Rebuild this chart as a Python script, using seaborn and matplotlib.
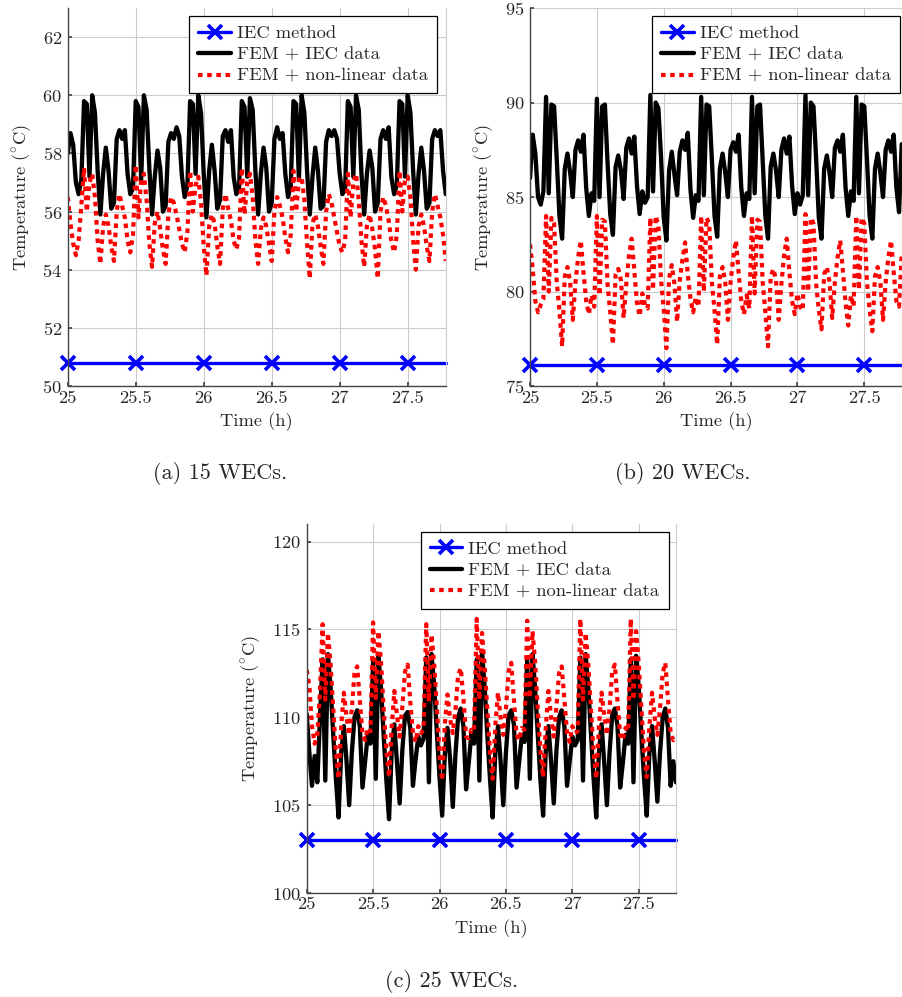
import numpy as np
import matplotlib
matplotlib.use("Agg")
import matplotlib.pyplot as plt
from matplotlib.ticker import FormatStrFormatter
import seaborn as sns

# ---------------- data ----------------
time_h = np.round(np.linspace(25.0, 27.78, 140), 2)
iec_time = [25.0, 25.5, 26.0, 26.5, 27.0, 27.5, 27.78]

# (a) 15 WECs
iec_15 = [50.8, 50.8, 50.8, 50.8, 50.8, 50.8, 50.8]
fem_iec_15 = [
    58.0, 58.7, 58.3, 57.0, 56.6, 57.1,
    59.8, 59.7, 57.2, 60.0, 59.4, 57.4, 55.9, 57.3, 58.2, 57.4, 56.1, 56.3, 58.5, 58.8, 58.5, 58.8, 57.3, 56.6, 56.8,
    59.8, 59.6, 57.1, 60.0, 59.5, 57.5, 55.9, 57.2, 58.1, 57.5, 56.0, 56.2, 58.4, 58.7, 58.5, 58.9, 58.6, 57.2, 56.5, 56.9,
    59.8, 59.7, 57.3, 60.0, 59.4, 57.3, 55.8, 57.4, 58.3, 57.4, 56.1, 56.4, 58.6, 58.8, 58.4, 58.8, 57.2, 56.6, 56.8,
    59.8, 59.6, 57.2, 59.9, 59.5, 57.4, 55.9, 57.3, 58.2, 57.5, 56.0, 56.3, 58.5, 58.9, 58.5, 58.7, 57.3, 56.5, 56.9,
    59.8, 59.7, 57.1, 60.0, 59.4, 57.4, 55.9, 57.2, 58.2, 57.4, 56.1, 56.2, 58.4, 58.8, 58.6, 58.8, 58.5, 57.3, 56.6, 56.8,
    59.8, 59.6, 57.2, 60.0, 59.5, 57.3, 55.9, 57.3, 58.1, 57.5, 56.0, 56.3, 58.5, 58.8, 58.5, 58.9, 57.2, 56.6, 56.9,
    59.8, 59.7, 57.2, 60.0, 59.4, 57.4, 55.9, 57.3, 58.2, 57.4, 56.1, 56.3, 58.5, 58.8, 58.6, 58.8, 57.4, 56.6]
fem_nl_15 = [
    56.5, 55.6, 54.9, 54.5, 55.0, 56.2,
    57.5, 56.0, 57.0, 57.3, 56.5, 55.0, 54.2, 55.5, 55.9, 55.5, 54.8, 54.3, 56.0, 56.6, 56.2, 55.8, 55.0, 54.6, 55.2,
    57.6, 55.8, 57.1, 57.3, 56.4, 54.9, 54.1, 55.6, 56.0, 55.4, 54.7, 54.2, 55.9, 56.5, 56.3, 55.9, 55.4, 54.9, 54.6, 55.3,
    57.4, 56.0, 56.9, 57.2, 56.3, 54.8, 53.8, 55.5, 55.9, 55.6, 54.8, 54.2, 56.1, 56.6, 56.1, 55.7, 55.0, 54.7, 55.1,
    57.5, 55.9, 57.0, 57.3, 56.5, 55.0, 54.2, 55.4, 55.8, 55.5, 54.9, 54.3, 56.0, 56.5, 56.2, 55.8, 55.1, 54.6, 55.2,
    57.4, 56.0, 57.1, 57.2, 56.4, 54.9, 53.7, 55.6, 55.9, 55.5, 54.8, 54.2, 56.0, 56.6, 56.3, 55.8, 55.3, 54.8, 54.6, 55.0,
    57.3, 55.8, 57.0, 57.3, 56.4, 55.0, 54.1, 55.5, 55.9, 55.4, 54.7, 53.7, 56.0, 56.5, 56.2, 55.7, 55.0, 54.6, 55.2,
    57.4, 56.0, 57.1, 57.2, 56.5, 55.0, 54.0, 55.5, 55.9, 55.5, 54.8, 54.3, 56.0, 56.6, 56.2, 55.8, 55.2, 54.3]

# (b) 20 WECs
iec_20 = [76.1, 76.1, 76.1, 76.1, 76.1, 76.1, 76.1]
fem_iec_20 = [
    86.0, 88.3, 87.3, 85.0, 84.6, 85.3,
    90.3, 85.2, 89.9, 89.8, 87.0, 84.0, 82.8, 86.5, 87.3, 86.3, 85.0, 87.5, 88.0, 87.4, 88.3, 85.5, 84.0, 85.2, 84.8,
    90.2, 85.0, 89.8, 89.9, 86.8, 84.1, 83.0, 86.6, 87.2, 86.4, 84.9, 87.6, 88.1, 87.3, 88.2, 85.6, 84.1, 85.3, 84.7, 85.0,
    90.4, 85.3, 90.0, 89.7, 87.1, 83.9, 82.7, 86.4, 87.4, 86.2, 85.1, 87.4, 88.0, 87.5, 88.4, 85.4, 83.9, 85.1, 84.8,
    90.3, 85.1, 89.9, 89.8, 87.0, 84.0, 82.9, 86.5, 87.3, 86.3, 85.0, 87.5, 87.9, 87.4, 88.3, 85.5, 84.0, 85.2, 84.9,
    90.3, 85.2, 89.8, 89.9, 86.9, 84.0, 82.8, 86.6, 87.3, 86.4, 85.0, 87.5, 88.1, 87.3, 88.2, 85.6, 84.1, 85.2, 84.6, 85.1,
    90.4, 85.1, 90.0, 89.8, 87.0, 83.9, 82.8, 86.5, 87.2, 86.3, 85.0, 87.6, 88.0, 87.4, 88.3, 85.5, 84.0, 85.3, 84.8,
    90.3, 85.2, 89.9, 89.8, 87.0, 84.0, 82.8, 86.5, 87.3, 86.3, 85.0, 87.5, 88.0, 87.4, 88.3, 85.5, 84.2, 87.8]
fem_nl_20 = [
    82.5, 81.2, 79.5, 78.9, 79.3, 79.6,
    84.0, 80.0, 83.9, 83.6, 80.5, 79.0, 77.1, 80.8, 81.3, 80.5, 78.5, 80.5, 81.8, 82.7, 81.0, 79.5, 78.8, 79.8, 79.2,
    84.0, 79.8, 83.8, 83.7, 80.4, 78.9, 77.2, 80.9, 81.2, 80.6, 78.6, 80.4, 81.9, 82.8, 81.1, 79.4, 78.7, 79.9, 79.3, 79.1,
    83.9, 80.1, 84.0, 83.5, 80.6, 79.1, 77.0, 80.7, 81.4, 80.4, 78.4, 80.6, 81.7, 82.6, 80.9, 79.6, 78.9, 79.7, 79.2,
    84.0, 80.0, 83.9, 83.6, 80.5, 79.0, 77.2, 80.8, 81.3, 80.5, 78.5, 80.5, 81.8, 82.7, 81.0, 79.5, 78.8, 79.8, 79.1,
    84.0, 79.9, 83.8, 83.7, 80.5, 78.9, 77.1, 80.8, 81.2, 80.6, 78.5, 80.4, 81.9, 82.8, 81.0, 79.5, 78.8, 79.9, 79.2, 79.0,
    84.1, 80.0, 83.9, 83.6, 80.4, 79.0, 78.0, 80.9, 81.3, 80.5, 78.6, 80.5, 81.8, 82.7, 81.1, 79.4, 78.2, 79.8, 79.2,
    84.0, 80.1, 83.9, 83.6, 80.5, 79.0, 77.9, 80.8, 81.3, 80.5, 78.5, 80.5, 81.8, 82.7, 81.0, 79.5, 79.2, 82.0]

# (c) 25 WECs
iec_25 = [103.0, 103.0, 103.0, 103.0, 103.0, 103.0, 103.0]
fem_iec_25 = [
    110.2, 108.0, 106.1, 107.8, 106.3, 110.0,
    113.3, 106.4, 113.6, 111.7, 109.0, 106.5, 104.3, 108.0, 109.5, 107.5, 105.0, 108.0, 110.0, 110.4, 109.5, 106.0, 107.5, 109.0, 108.5,
    113.2, 106.5, 113.5, 111.6, 108.9, 106.4, 104.2, 108.1, 109.6, 107.4, 105.1, 108.1, 110.1, 110.3, 109.4, 106.1, 107.6, 108.9, 108.4, 108.8,
    113.4, 106.3, 113.6, 111.8, 109.1, 106.6, 104.4, 107.9, 109.4, 107.6, 104.9, 107.9, 110.0, 110.5, 109.5, 105.9, 107.4, 109.1, 108.5,
    113.3, 106.4, 113.7, 111.7, 109.0, 106.5, 104.3, 108.0, 109.5, 107.5, 105.0, 108.0, 110.1, 110.4, 109.6, 106.0, 107.5, 109.0, 108.6,
    113.3, 106.5, 113.6, 111.6, 109.0, 106.4, 104.4, 108.1, 109.5, 107.5, 105.1, 108.1, 110.0, 110.4, 109.5, 106.1, 107.5, 108.9, 108.4, 108.7,
    113.4, 106.4, 113.6, 111.7, 109.1, 106.5, 104.3, 108.0, 109.6, 107.4, 105.0, 108.0, 110.1, 110.5, 109.5, 106.0, 107.4, 109.0, 108.5,
    113.3, 106.3, 113.5, 111.7, 109.0, 106.5, 104.4, 108.0, 109.5, 107.5, 105.2, 108.0, 110.0, 110.5, 109.4, 106.1, 107.5, 106.3]
fem_nl_25 = [
    112.7, 111.8, 109.5, 108.5, 109.0, 111.5,
    115.3, 111.0, 114.8, 113.0, 110.5, 108.0, 106.5, 109.5, 111.4, 110.0, 109.0, 110.5, 112.5, 112.9, 111.0, 109.0, 108.7, 109.4, 109.2,
    115.4, 111.1, 114.9, 113.1, 110.4, 108.1, 106.6, 109.4, 111.5, 110.1, 108.9, 110.6, 112.6, 113.0, 110.9, 109.1, 108.6, 109.5, 109.1, 109.3,
    115.3, 110.9, 114.7, 113.0, 110.6, 107.9, 106.4, 109.6, 111.3, 109.9, 109.1, 110.4, 112.4, 112.8, 111.1, 108.9, 108.8, 109.3, 109.2,
    115.6, 111.0, 114.8, 112.9, 110.5, 108.0, 106.5, 109.5, 111.4, 110.0, 109.0, 110.5, 112.6, 113.1, 111.0, 109.0, 108.7, 109.4, 109.3,
    115.5, 111.1, 114.9, 113.1, 110.4, 108.1, 106.6, 109.4, 111.5, 110.0, 108.9, 110.6, 112.5, 112.9, 111.0, 109.1, 108.6, 109.5, 109.1, 109.2,
    115.6, 111.0, 114.8, 113.0, 110.5, 108.0, 106.5, 109.5, 111.4, 110.1, 109.0, 110.5, 112.6, 113.0, 110.9, 109.0, 108.7, 109.4, 109.2,
    115.6, 111.0, 114.9, 113.0, 110.5, 108.0, 106.6, 109.5, 111.4, 110.0, 109.0, 110.5, 112.5, 113.1, 111.0, 109.1, 108.7, 108.9]

panels = [
    (iec_15, fem_iec_15, fem_nl_15, (50, 63), [50, 52, 54, 56, 58, 60, 62], '(a) 15 WECs.'),
    (iec_20, fem_iec_20, fem_nl_20, (75, 95), [75, 80, 85, 90, 95], '(b) 20 WECs.'),
    (iec_25, fem_iec_25, fem_nl_25, (100, 121), [100, 105, 110, 115, 120], '(c) 25 WECs.'),
]
xticks = [25, 25.5, 26, 26.5, 27, 27.5]

# ---------------- style ----------------
sns.set_theme(style="whitegrid")
plt.rcParams['font.family'] = ['cmr10', 'DejaVu Serif']
plt.rcParams['mathtext.fontset'] = 'cm'
plt.rcParams['axes.formatter.use_mathtext'] = True
plt.rcParams['axes.unicode_minus'] = False
FS = 13.3      # ticks, axis labels, legend
FS_CAP = 16    # sub-captions

fig = plt.figure(figsize=(9.02, 9.97), dpi=100)
# axes boxes in figure fraction [left, bottom, width, height]
boxes = [[0.0751, 0.6128, 0.4191, 0.3791],
         [0.5876, 0.6128, 0.4121, 0.3791],
         [0.3400, 0.1043, 0.4094, 0.3701]]
leg_anchor = [(0.977, 0.979), (0.995, 0.979), (0.980, 0.979)]
captions_xy = [(0.244, 0.525), (0.757, 0.525), (0.501, 0.016)]

for i, (iec, fem_iec, fem_nl, ylim, yticks, cap) in enumerate(panels):
    ax = fig.add_axes(boxes[i])
    sns.lineplot(x=iec_time, y=iec, ax=ax, color='blue', lw=2.4,
                 marker='x', markersize=9.5, markeredgewidth=2.6,
                 markeredgecolor='blue', markevery=[0, 1, 2, 3, 4, 5],
                 clip_on=False, label='IEC method')
    sns.lineplot(x=time_h, y=fem_iec, ax=ax, color='black', lw=3.1,
                 label='FEM + IEC data')
    sns.lineplot(x=time_h, y=fem_nl, ax=ax, color='red', lw=3.0,
                 linestyle=(0, (1.1, 1.1)), label='FEM + non-linear data')

    ax.set_xlim(25, 27.78)
    ax.set_ylim(*ylim)
    ax.set_xticks(xticks)
    ax.set_yticks(yticks)
    ax.xaxis.set_major_formatter(FormatStrFormatter('%g'))
    ax.tick_params(labelsize=FS, direction='in', length=3, color='#444444',
                   left=True, bottom=True)
    ax.tick_params(axis='y', pad=4)
    ax.tick_params(axis='x', pad=3)
    ax.grid(True, color='#cccccc', lw=0.8)
    ax.set_facecolor('white')
    for s in ['left', 'bottom']:
        ax.spines[s].set_color('#444444')
        ax.spines[s].set_linewidth(1.0)
    ax.spines['top'].set_visible(False)
    ax.spines['right'].set_color('#cccccc')
    ax.spines['right'].set_linewidth(0.8)

    ax.set_xlabel('Time (h)', fontsize=FS, labelpad=5)
    ax.set_ylabel(r'Temperature ($^{\circ}$C)', fontsize=FS, labelpad=7)

    leg = ax.legend(loc='upper right', bbox_to_anchor=leg_anchor[i],
                    borderaxespad=0, fontsize=FS, frameon=True,
                    fancybox=False, framealpha=1, edgecolor='black',
                    handlelength=1.75, handletextpad=0.33, labelspacing=0.3,
                    borderpad=0.5)
    leg.get_frame().set_linewidth(0.9)

    fig.text(captions_xy[i][0], captions_xy[i][1], cap, fontsize=FS_CAP,
             ha='center', va='center')

fig.savefig('out.png', dpi=100, facecolor='white')
